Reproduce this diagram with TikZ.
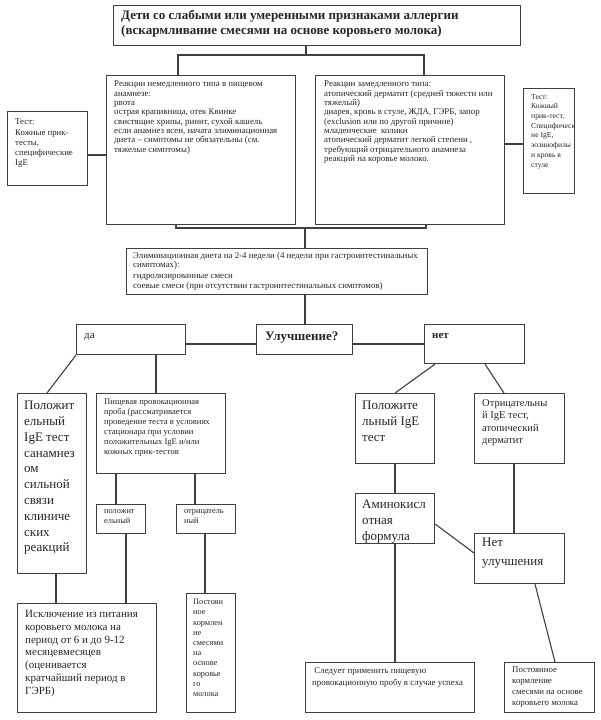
\documentclass[tikz,border=0pt]{standalone}
\usepackage{fontspec}
\setmainfont{Liberation Serif}
\begin{document}
\begin{tikzpicture}[x=1pt,y=-1pt,
  box/.style={draw=black!75, line width=1.1pt, anchor=north west, inner sep=0pt, fill=white},
  txt/.style={anchor=north west, align=left, inner sep=0pt, text=black!85},
  ln/.style={draw=black!75, line width=1.1pt},
  fsmall/.style={font=\fontsize{8.85}{9.3}\selectfont},
  fbig/.style={font=\fontsize{13}{15.8}\selectfont},
  fbold/.style={font=\bfseries\fontsize{13}{15}\selectfont}]
\useasboundingbox[fill=white] (0,0) rectangle (600,720);

% coordinates for connector bends
\coordinate (j1) at (306,55);
\coordinate (jl) at (178,55);
\coordinate (jr) at (424,55);
\coordinate (cl) at (0,155);
\coordinate (cr) at (0,144);
\coordinate (kl) at (176,228);
\coordinate (kr) at (426,228);
\coordinate (km) at (305,228);
\coordinate (hy) at (0,344);

% boxes
\node[box, minimum width=407pt, minimum height=40pt] (title) at (113,5) {};
\node[box, minimum width=80pt, minimum height=74pt] (testL) at (7,111) {};
\node[box, minimum width=189pt, minimum height=149pt] (reactL) at (106,75) {};
\node[box, minimum width=189pt, minimum height=149pt] (reactR) at (315,75) {};
\node[box, minimum width=51pt, minimum height=105pt] (testR) at (523,88) {};
\node[box, minimum width=301pt, minimum height=46pt] (elim) at (126,248) {};
\node[box, minimum width=109pt, minimum height=30pt] (yes) at (76,324) {};
\node[box, minimum width=96pt, minimum height=30pt] (impr) at (256,324) {};
\node[box, minimum width=100pt, minimum height=39pt] (no) at (424,324) {};
\node[box, minimum width=69pt, minimum height=180pt] (posL) at (17,393) {};
\node[box, minimum width=129pt, minimum height=80pt] (food) at (96,393) {};
\node[box, minimum width=49pt, minimum height=29pt] (pos2) at (96,504) {};
\node[box, minimum width=59pt, minimum height=29pt] (neg2) at (176,504) {};
\node[box, minimum width=139pt, minimum height=109pt] (excl) at (17,603) {};
\node[box, minimum width=49pt, minimum height=119pt] (contL) at (186,593) {};
\node[box, minimum width=79pt, minimum height=70pt] (posR) at (355,393) {};
\node[box, minimum width=90pt, minimum height=70pt] (negR) at (474,393) {};
\node[box, minimum width=79pt, minimum height=50pt] (amino) at (355,493) {};
\node[box, minimum width=90pt, minimum height=50pt] (noimp) at (474,533) {};
\node[box, minimum width=169pt, minimum height=50pt] (follow) at (305,662) {};
\node[box, minimum width=90pt, minimum height=50pt] (contR) at (504,662) {};

% texts
\node[txt, fbold] (titleT) at ([shift={(8,5)}]title.north west)
  {Дети со слабыми или умеренными признаками аллергии\\(вскармливание смесями на основе коровьего молока)};
\node[txt, font=\fontsize{8.8}{10.2}\selectfont] (testLT) at ([shift={(8,8)}]testL.north west)
  {Тест:\\Кожные прик-\\тесты,\\специфические\\IgE};
\node[txt, fsmall] (reactLT) at ([shift={(8,6)}]reactL.north west)
  {Реакции немедленного типа в пищевом\\анамнезе:\\рвота\\острая крапивница, отек Квинке\\свистящие хрипы, ринит, сухой кашель\\если анамнез ясен, начата элиминационная\\диета -- симптомы не обязательны (см.\\тяжелые симптомы)};
\node[txt, fsmall] (reactRT) at ([shift={(9,6)}]reactR.north west)
  {Реакции замедленного типа:\\атопический дерматит (средней тяжести или\\тяжелый)\\диарея, кровь в стуле, ЖДА, ГЭРБ, запор\\(exclusion или по другой причине)\\младенческие\ \ колики\\атопический дерматит легкой степени ,\\требующий отрицательного анамнеза\\реакций на коровье молоко.};
\node[txt, font=\fontsize{7.6}{9.7}\selectfont] (testRT) at ([shift={(8,6)}]testR.north west)
  {Тест:\\Кожный\\прик-тест,\\Специфическ\\ие IgE,\\эозинофилы\\и кровь в\\стуле};
\node[txt, fsmall] (elimT) at ([shift={(7,4)}]elim.north west)
  {Элиминационная диета на 2-4 недели (4 недели при гастроинтестинальных\\симптомах):\\[2pt]гидролизированные смеси\\соевые смеси (при отсутствии гастроинтестинальных симптомов)};
\node[txt, font=\fontsize{11}{13}\selectfont] (yesT) at ([shift={(8,9)}]yes.north west) {да};
\node[txt, fbold] (imprT) at ([shift={(9,8)}]impr.north west) {Улучшение?};
\node[txt, font=\bfseries\fontsize{11}{13}\selectfont] (noT) at ([shift={(8,9)}]no.north west) {нет};
\node[txt, fbig] (posLT) at ([shift={(7,8)}]posL.north west)
  {Положит\\ельный\\IgE тест\\санамнез\\ом\\сильной\\связи\\клиниче\\ских\\реакций};
\node[txt, font=\fontsize{8.6}{10}\selectfont] (foodT) at ([shift={(8,6)}]food.north west)
  {Пищевая провокационная\\проба (рассматривается\\проведение теста в условиях\\стационара при условии\\положительных IgE и/или\\кожных прик-тестов};
\node[txt, font=\fontsize{8.3}{10}\selectfont] (pos2T) at ([shift={(8,5)}]pos2.north west) {положит\\ельный};
\node[txt, font=\fontsize{8.3}{10}\selectfont] (neg2T) at ([shift={(8,5)}]neg2.north west) {отрицатель\\ный};
\node[txt, font=\fontsize{11}{12.8}\selectfont] (exclT) at ([shift={(8,7)}]excl.north west)
  {Исключение из питания\\коровьего молока на\\период от 6 и до 9-12\\месяцевмесяцев\\(оценивается\\кратчайший период в\\ГЭРБ)};
\node[txt, font=\fontsize{8.3}{10.2}\selectfont] (contLT) at ([shift={(7,6)}]contL.north west)
  {Постоян\\ное\\кормлен\\ие\\смесями\\на\\основе\\коровье\\го\\молока};
\node[txt, fbig] (posRT) at ([shift={(7,8)}]posR.north west) {Положите\\льный IgE\\тест};
\node[txt, font=\fontsize{10.5}{12.5}\selectfont] (negRT) at ([shift={(8,6)}]negR.north west)
  {Отрицательны\\й IgE тест,\\атопический\\дерматит};
\node[txt, fbig] (aminoT) at ([shift={(7,7)}]amino.north west) {Аминокисл\\отная\\формула};
\node[txt, font=\fontsize{13}{19}\selectfont] (noimpT) at ([shift={(8,5)}]noimp.north west) {Нет\\улучшения};
\node[txt, font=\fontsize{8.9}{12.5}\selectfont] (followT) at ([shift={(7,5)}]follow.north west)
  {\ Следует применить пищевую\\провокационную пробу в случае успеха};
\node[txt, font=\fontsize{8.8}{11}\selectfont] (contRT) at ([shift={(8,5)}]contR.north west)
  {Постоянное\\кормление\\смесями на основе\\коровьего молока};

% connectors
\draw[ln] (title.south -| j1) -- (j1);
\draw[ln] (reactL.north -| jl) -- (jl) -- (jr) -- (reactR.north -| jr);
\draw[ln] (testL.east |- cl) -- (reactL.west |- cl);
\draw[ln] (reactR.east |- cr) -- (testR.west |- cr);
\draw[ln] (reactL.south -| kl) -- (kl) -- (kr) -- (reactR.south -| kr);
\draw[ln] (km) -- (elim.north -| km);
\draw[ln] (elim.south -| km) -- (impr.north -| km);
\draw[ln] (yes.east |- hy) -- (impr.west |- hy);
\draw[ln] (impr.east |- hy) -- (no.west |- hy);
\draw[ln] (yes.south west) -- ([xshift=30pt]posL.north west);
\draw[ln] ([xshift=80pt]yes.south west) -- ([xshift=80pt]yes.south west |- food.north);
\draw[ln] ([xshift=11pt]no.south west) -- ([xshift=40pt]posR.north west);
\draw[ln] ([xshift=61pt]no.south west) -- ([xshift=30pt]negR.north west);
\draw[ln] ([xshift=20pt]food.south west) -- ([xshift=20pt]pos2.north west);
\draw[ln] ([xshift=99pt]food.south west) -- ([xshift=19pt]neg2.north west);
\draw[ln] ([xshift=39pt]posL.south west) -- ([xshift=39pt]excl.north west);
\draw[ln] ([xshift=30pt]pos2.south west) -- ([xshift=109pt]excl.north west);
\draw[ln] ([xshift=29pt]neg2.south west) -- ([xshift=19pt]contL.north west);
\draw[ln] ([xshift=40pt]posR.south west) -- ([xshift=40pt]amino.north west);
\draw[ln] ([xshift=40pt]negR.south west) -- ([xshift=40pt]noimp.north west);
\draw[ln] ([yshift=-31pt]amino.north east) -- ([yshift=-20pt]noimp.north west);
\draw[ln] ([xshift=40pt]amino.south west) -- ([xshift=90pt]follow.north west);
\draw[ln] ([xshift=61pt]noimp.south west) -- ([xshift=51pt]contR.north west);
\end{tikzpicture}
\end{document}
